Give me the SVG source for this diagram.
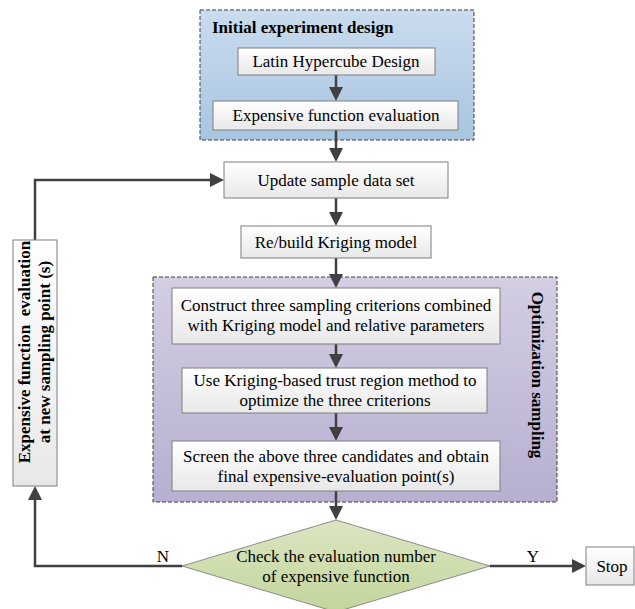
<svg xmlns="http://www.w3.org/2000/svg" width="635" height="609" viewBox="0 0 635 609">
<defs>
<linearGradient id="gBox" x1="0" y1="0" x2="0" y2="1">
<stop offset="0" stop-color="#ffffff"/>
<stop offset="1" stop-color="#e8e8e8"/>
</linearGradient>
<linearGradient id="gBlue" x1="0" y1="0" x2="0" y2="1">
<stop offset="0" stop-color="#cadcee"/>
<stop offset="1" stop-color="#a8c5e1"/>
</linearGradient>
<linearGradient id="gPurple" x1="0" y1="0" x2="0" y2="1">
<stop offset="0" stop-color="#d4cee3"/>
<stop offset="1" stop-color="#b7afd0"/>
</linearGradient>
<linearGradient id="gGreen" x1="0" y1="0" x2="0" y2="1">
<stop offset="0" stop-color="#dbe6c2"/>
<stop offset="1" stop-color="#c3d59c"/>
</linearGradient>
<marker id="arr" markerUnits="userSpaceOnUse" markerWidth="14" markerHeight="14" refX="4" refY="7" orient="auto">
<path d="M0,0 L14,7 L0,14 z" fill="#404040"/>
</marker>
</defs>
<style>
.box{fill:url(#gBox);stroke:#7f7f7f;stroke-width:1}
.grp{stroke:#404040;stroke-width:1;stroke-dasharray:4 2}
.t{font-family:"Liberation Serif","Times New Roman",serif;font-size:17px;fill:#000;text-anchor:middle}
.b{font-weight:bold}
.c{fill:none;stroke:#404040;stroke-width:2.5;marker-end:url(#arr)}
</style>

<g id="group-initial">
<rect class="grp" x="200" y="10" width="274" height="130" fill="url(#gBlue)"/>
<text class="t b" x="212" y="33" style="text-anchor:start">Initial experiment design</text>
</g>
<g id="group-optimization">
<rect class="grp" x="153" y="277" width="404" height="225" fill="url(#gPurple)"/>
<text class="t b" transform="translate(532,375) rotate(90)">Optimization sampling</text>
</g>

<g id="connectors">
<path class="c" d="M336,75 V91"/>
<path class="c" d="M336,130 V152"/>
<path class="c" d="M336,198 V216"/>
<path class="c" d="M336,258 V278"/>
<path class="c" d="M336,344 V358"/>
<path class="c" d="M336,413 V431"/>
<path class="c" d="M336,491 V510"/>
<path class="c" d="M490,566 H576"/>
<path class="c" d="M182,566 H35 V496"/>
<path class="c" d="M35,240 V180 H214"/>
</g>

<g id="n-latin">
<rect class="box" x="238" y="48" width="197" height="27"/>
<text class="t" x="336" y="67">Latin Hypercube Design</text>
</g>
<g id="n-expensive">
<rect class="box" x="213" y="101" width="245" height="29"/>
<text class="t" x="336" y="121">Expensive function evaluation</text>
</g>
<g id="n-update">
<rect class="box" x="224" y="162" width="224" height="36"/>
<text class="t" x="336" y="186">Update sample data set</text>
</g>
<g id="n-rebuild">
<rect class="box" x="241" y="226" width="190" height="32"/>
<text class="t" x="336" y="248">Re/build Kriging model</text>
</g>
<g id="n-construct">
<rect class="box" x="172" y="288" width="328" height="56"/>
<text class="t" x="336" y="311">Construct three sampling criterions combined</text>
<text class="t" x="336" y="331">with Kriging model and relative parameters</text>
</g>
<g id="n-use">
<rect class="box" x="182" y="368" width="305" height="45"/>
<text class="t" x="335" y="386">Use Kriging-based trust region method to</text>
<text class="t" x="335" y="406">optimize the three criterions</text>
</g>
<g id="n-screen">
<rect class="box" x="172" y="441" width="328" height="50"/>
<text class="t" x="336" y="462">Screen the above three candidates and obtain</text>
<text class="t" x="336" y="482">final expensive-evaluation point(s)</text>
</g>
<g id="n-check">
<polygon points="336,520 490,566 336,612 182,566" fill="url(#gGreen)" stroke="#8c8c8c" stroke-width="1"/>
<text class="t" x="336" y="562">Check the evaluation number</text>
<text class="t" x="336" y="582">of expensive function</text>
</g>
<g id="n-stop">
<rect class="box" x="586" y="547" width="48" height="38"/>
<text class="t" x="612" y="572">Stop</text>
</g>
<g id="n-eval-new">
<rect class="box" x="13" y="240" width="44" height="246"/>
<text class="t b" transform="translate(30,352) rotate(-90)" xml:space="preserve">Expensive function  evaluation</text>
<text class="t b" transform="translate(50,352) rotate(-90)">at new sampling point (s)</text>
</g>
<g id="labels">
<text class="t" x="163" y="562">N</text>
<text class="t" x="533" y="562">Y</text>
</g>
</svg>
